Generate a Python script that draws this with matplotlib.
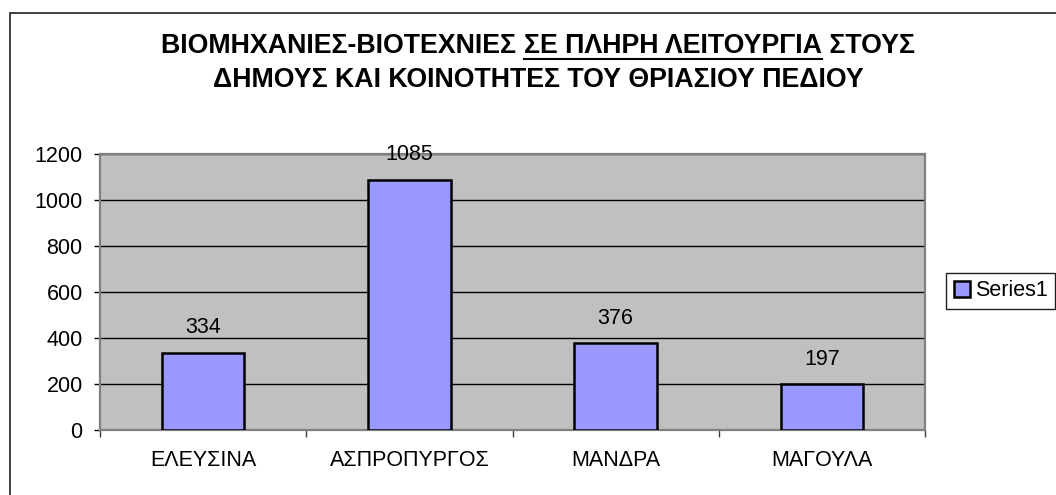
import matplotlib.pyplot as plt
from matplotlib.patches import Rectangle
from matplotlib.lines import Line2D

plt.rcParams['font.family'] = ['Liberation Sans', 'DejaVu Sans']

# Data
towns = ['ΕΛΕΥΣΙΝΑ', 'ΑΣΠΡΟΠΥΡΓΟΣ', 'ΜΑΝΔΡΑ', 'ΜΑΓΟΥΛΑ']
counts = [334, 1085, 376, 197]
series_name = 'Series1'
yticks = [0, 200, 400, 600, 800, 1000, 1200]

title_pre = 'ΒΙΟΜΗΧΑΝΙΕΣ-ΒΙΟΤΕΧΝΙΕΣ '
title_under = 'ΣΕ ΠΛΗΡΗ ΛΕΙΤΟΥΡΓΙΑ'
title_post = ' ΣΤΟΥΣ'
title_line2 = 'ΔΗΜΟΥΣ ΚΑΙ ΚΟΙΝΟΤΗΤΕΣ ΤΟΥ ΘΡΙΑΣΙΟΥ ΠΕΔΙΟΥ'

W, H = 1056, 495
fig = plt.figure(figsize=(W / 100, H / 100), dpi=100)
fs = 15.5
tfs = 19.3

# outer chart frame (right/bottom run off the picture)
fig.patches.append(Rectangle((10 / W, 1 - 510 / H), 1070 / W, 497 / H,
                             transform=fig.transFigure, fill=False,
                             edgecolor='#202020', linewidth=1.2))

ax = fig.add_axes([100 / W, (H - 429.5) / H, 825 / W, 276 / H])
ax.set_facecolor('#C0C0C0')
x = list(range(len(towns)))
bars = ax.bar(x, counts, width=0.4, color='#9999FF', edgecolor='black',
              linewidth=1.8, label=series_name, zorder=3)
for xi, v in zip(x, counts):
    ax.annotate(str(v), (xi, v), xytext=(0, 18), textcoords='offset points',
                ha='center', va='center', fontsize=fs, zorder=4,
                annotation_clip=False)

ax.set_xlim(-0.5, len(towns) - 0.5)
ax.set_ylim(0, 1200)
ax.set_yticks(yticks)
ax.yaxis.grid(True, color='black', linewidth=1.0, zorder=1)
ax.set_axisbelow(True)
ax.set_xticks(x)
ax.set_xticklabels(towns)
ax.set_xticks([i - 0.5 for i in range(len(towns) + 1)], minor=True)
ax.tick_params(axis='x', which='major', length=0, pad=15, labelsize=fs)
ax.tick_params(axis='x', which='minor', length=5, width=1, color='#404040')
ax.tick_params(axis='y', length=4.5, width=1, color='black', pad=8,
               labelsize=fs)
for s in ax.spines.values():
    s.set_color('#808080')
    s.set_linewidth(1.6)

leg = ax.legend(loc='center left', bbox_to_anchor=(946 / W, 1 - 291 / H),
                bbox_transform=fig.transFigure, borderaxespad=0,
                fancybox=False, framealpha=1, edgecolor='#202020',
                fontsize=fs, handlelength=0.75, handleheight=0.75,
                handletextpad=0.25, borderpad=0.35)
leg.get_frame().set_linewidth(1.0)

# title with underlined middle part
r = fig.canvas.get_renderer()
def width_px(s):
    t = fig.text(0, 0, s, fontsize=tfs, fontweight='bold')
    w = t.get_window_extent(r).width
    t.remove()
    return w

w_pre = width_px(title_pre)
w_under = width_px(title_under)
w_post = width_px(title_post)
cx = 538
x0 = cx - (w_pre + w_under + w_post) / 2
y1 = 1 - 53 / H
for s, xs in [(title_pre, x0), (title_under, x0 + w_pre),
              (title_post, x0 + w_pre + w_under)]:
    fig.text(xs / W, y1, s, fontsize=tfs, fontweight='bold', va='baseline')
uy = 1 - 59 / H
fig.lines.append(Line2D([(x0 + w_pre) / W, (x0 + w_pre + w_under) / W],
                        [uy, uy], transform=fig.transFigure,
                        color='black', linewidth=1.5))
fig.text(cx / W, 1 - 87 / H, title_line2, fontsize=tfs, fontweight='bold',
         ha='center', va='baseline')

fig.savefig('out.png', dpi=100)
